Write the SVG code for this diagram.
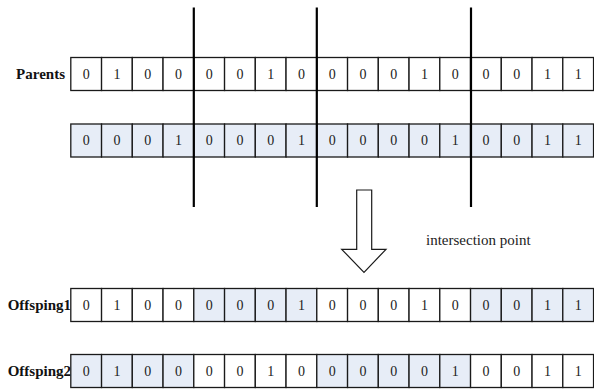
<svg xmlns="http://www.w3.org/2000/svg" width="594" height="389" viewBox="0 0 594 389">
<style>
text{font-family:"Liberation Serif","Tinos","DejaVu Serif",serif}
.c{stroke:#1a1a1a;stroke-width:1.3}
.w{fill:#ffffff}
.b{fill:#e7edf7}
.d{font-size:14px;fill:#222;text-anchor:middle}
.lab{font-size:15px;font-weight:bold;fill:#111;text-anchor:end}
.cut{stroke:#000;stroke-width:2.2}
</style>
<rect width="594" height="389" fill="#fff"/>
<g id="parent1">
<text class="lab" x="65" y="78.5">Parents</text>
<rect class="c w" x="70.8" y="57.5" width="30.75" height="33"/><text class="d" x="86.2" y="78.5">0</text>
<rect class="c w" x="101.55" y="57.5" width="30.75" height="33"/><text class="d" x="116.9" y="78.5">1</text>
<rect class="c w" x="132.3" y="57.5" width="30.75" height="33"/><text class="d" x="147.7" y="78.5">0</text>
<rect class="c w" x="163.05" y="57.5" width="30.75" height="33"/><text class="d" x="178.4" y="78.5">0</text>
<rect class="c w" x="193.8" y="57.5" width="30.75" height="33"/><text class="d" x="209.2" y="78.5">0</text>
<rect class="c w" x="224.55" y="57.5" width="30.75" height="33"/><text class="d" x="239.9" y="78.5">0</text>
<rect class="c w" x="255.3" y="57.5" width="30.75" height="33"/><text class="d" x="270.7" y="78.5">1</text>
<rect class="c w" x="286.05" y="57.5" width="30.75" height="33"/><text class="d" x="301.4" y="78.5">0</text>
<rect class="c w" x="316.8" y="57.5" width="30.75" height="33"/><text class="d" x="332.2" y="78.5">0</text>
<rect class="c w" x="347.55" y="57.5" width="30.75" height="33"/><text class="d" x="362.9" y="78.5">0</text>
<rect class="c w" x="378.3" y="57.5" width="30.75" height="33"/><text class="d" x="393.7" y="78.5">0</text>
<rect class="c w" x="409.05" y="57.5" width="30.75" height="33"/><text class="d" x="424.4" y="78.5">1</text>
<rect class="c w" x="439.8" y="57.5" width="30.75" height="33"/><text class="d" x="455.2" y="78.5">0</text>
<rect class="c w" x="470.55" y="57.5" width="30.75" height="33"/><text class="d" x="485.9" y="78.5">0</text>
<rect class="c w" x="501.3" y="57.5" width="30.75" height="33"/><text class="d" x="516.7" y="78.5">0</text>
<rect class="c w" x="532.05" y="57.5" width="30.75" height="33"/><text class="d" x="547.4" y="78.5">1</text>
<rect class="c w" x="562.8" y="57.5" width="30.75" height="33"/><text class="d" x="578.2" y="78.5">1</text>
</g>
<g id="parent2">
<rect class="c b" x="70.8" y="124" width="30.75" height="33"/><text class="d" x="86.2" y="145">0</text>
<rect class="c b" x="101.55" y="124" width="30.75" height="33"/><text class="d" x="116.9" y="145">0</text>
<rect class="c b" x="132.3" y="124" width="30.75" height="33"/><text class="d" x="147.7" y="145">0</text>
<rect class="c b" x="163.05" y="124" width="30.75" height="33"/><text class="d" x="178.4" y="145">1</text>
<rect class="c b" x="193.8" y="124" width="30.75" height="33"/><text class="d" x="209.2" y="145">0</text>
<rect class="c b" x="224.55" y="124" width="30.75" height="33"/><text class="d" x="239.9" y="145">0</text>
<rect class="c b" x="255.3" y="124" width="30.75" height="33"/><text class="d" x="270.7" y="145">0</text>
<rect class="c b" x="286.05" y="124" width="30.75" height="33"/><text class="d" x="301.4" y="145">1</text>
<rect class="c b" x="316.8" y="124" width="30.75" height="33"/><text class="d" x="332.2" y="145">0</text>
<rect class="c b" x="347.55" y="124" width="30.75" height="33"/><text class="d" x="362.9" y="145">0</text>
<rect class="c b" x="378.3" y="124" width="30.75" height="33"/><text class="d" x="393.7" y="145">0</text>
<rect class="c b" x="409.05" y="124" width="30.75" height="33"/><text class="d" x="424.4" y="145">0</text>
<rect class="c b" x="439.8" y="124" width="30.75" height="33"/><text class="d" x="455.2" y="145">1</text>
<rect class="c b" x="470.55" y="124" width="30.75" height="33"/><text class="d" x="485.9" y="145">0</text>
<rect class="c b" x="501.3" y="124" width="30.75" height="33"/><text class="d" x="516.7" y="145">0</text>
<rect class="c b" x="532.05" y="124" width="30.75" height="33"/><text class="d" x="547.4" y="145">1</text>
<rect class="c b" x="562.8" y="124" width="30.75" height="33"/><text class="d" x="578.2" y="145">1</text>
</g>
<g id="cut-lines">
<line class="cut" x1="193.8" y1="7.5" x2="193.8" y2="207"/>
<line class="cut" x1="316.8" y1="7.5" x2="316.8" y2="207"/>
<line class="cut" x1="471" y1="7.5" x2="471" y2="207"/>
</g>
<g id="arrow">
<path d="M356.7,190 H371.7 V249.3 H386 L364,272.3 L341.7,249.3 H356.7 Z" fill="#fff" stroke="#1a1a1a" stroke-width="1.2"/>
</g>
<g id="label-intersection">
<text x="426" y="245" font-size="15" fill="#222">intersection point</text>
</g>
<g id="offspring1">
<text class="lab" x="71" y="310">Offsping1</text>
<rect class="c w" x="70.8" y="288.5" width="30.75" height="33"/><text class="d" x="86.2" y="309.5">0</text>
<rect class="c w" x="101.55" y="288.5" width="30.75" height="33"/><text class="d" x="116.9" y="309.5">1</text>
<rect class="c w" x="132.3" y="288.5" width="30.75" height="33"/><text class="d" x="147.7" y="309.5">0</text>
<rect class="c w" x="163.05" y="288.5" width="30.75" height="33"/><text class="d" x="178.4" y="309.5">0</text>
<rect class="c b" x="193.8" y="288.5" width="30.75" height="33"/><text class="d" x="209.2" y="309.5">0</text>
<rect class="c b" x="224.55" y="288.5" width="30.75" height="33"/><text class="d" x="239.9" y="309.5">0</text>
<rect class="c b" x="255.3" y="288.5" width="30.75" height="33"/><text class="d" x="270.7" y="309.5">0</text>
<rect class="c b" x="286.05" y="288.5" width="30.75" height="33"/><text class="d" x="301.4" y="309.5">1</text>
<rect class="c w" x="316.8" y="288.5" width="30.75" height="33"/><text class="d" x="332.2" y="309.5">0</text>
<rect class="c w" x="347.55" y="288.5" width="30.75" height="33"/><text class="d" x="362.9" y="309.5">0</text>
<rect class="c w" x="378.3" y="288.5" width="30.75" height="33"/><text class="d" x="393.7" y="309.5">0</text>
<rect class="c w" x="409.05" y="288.5" width="30.75" height="33"/><text class="d" x="424.4" y="309.5">1</text>
<rect class="c w" x="439.8" y="288.5" width="30.75" height="33"/><text class="d" x="455.2" y="309.5">0</text>
<rect class="c b" x="470.55" y="288.5" width="30.75" height="33"/><text class="d" x="485.9" y="309.5">0</text>
<rect class="c b" x="501.3" y="288.5" width="30.75" height="33"/><text class="d" x="516.7" y="309.5">0</text>
<rect class="c b" x="532.05" y="288.5" width="30.75" height="33"/><text class="d" x="547.4" y="309.5">1</text>
<rect class="c b" x="562.8" y="288.5" width="30.75" height="33"/><text class="d" x="578.2" y="309.5">1</text>
</g>
<g id="offspring2">
<text class="lab" x="71" y="376">Offsping2</text>
<rect class="c b" x="70.8" y="354.5" width="30.75" height="33"/><text class="d" x="86.2" y="375.5">0</text>
<rect class="c b" x="101.55" y="354.5" width="30.75" height="33"/><text class="d" x="116.9" y="375.5">1</text>
<rect class="c b" x="132.3" y="354.5" width="30.75" height="33"/><text class="d" x="147.7" y="375.5">0</text>
<rect class="c b" x="163.05" y="354.5" width="30.75" height="33"/><text class="d" x="178.4" y="375.5">0</text>
<rect class="c w" x="193.8" y="354.5" width="30.75" height="33"/><text class="d" x="209.2" y="375.5">0</text>
<rect class="c w" x="224.55" y="354.5" width="30.75" height="33"/><text class="d" x="239.9" y="375.5">0</text>
<rect class="c w" x="255.3" y="354.5" width="30.75" height="33"/><text class="d" x="270.7" y="375.5">1</text>
<rect class="c w" x="286.05" y="354.5" width="30.75" height="33"/><text class="d" x="301.4" y="375.5">0</text>
<rect class="c b" x="316.8" y="354.5" width="30.75" height="33"/><text class="d" x="332.2" y="375.5">0</text>
<rect class="c b" x="347.55" y="354.5" width="30.75" height="33"/><text class="d" x="362.9" y="375.5">0</text>
<rect class="c b" x="378.3" y="354.5" width="30.75" height="33"/><text class="d" x="393.7" y="375.5">0</text>
<rect class="c b" x="409.05" y="354.5" width="30.75" height="33"/><text class="d" x="424.4" y="375.5">0</text>
<rect class="c b" x="439.8" y="354.5" width="30.75" height="33"/><text class="d" x="455.2" y="375.5">1</text>
<rect class="c w" x="470.55" y="354.5" width="30.75" height="33"/><text class="d" x="485.9" y="375.5">0</text>
<rect class="c w" x="501.3" y="354.5" width="30.75" height="33"/><text class="d" x="516.7" y="375.5">0</text>
<rect class="c w" x="532.05" y="354.5" width="30.75" height="33"/><text class="d" x="547.4" y="375.5">1</text>
<rect class="c w" x="562.8" y="354.5" width="30.75" height="33"/><text class="d" x="578.2" y="375.5">1</text>
</g>
</svg>
